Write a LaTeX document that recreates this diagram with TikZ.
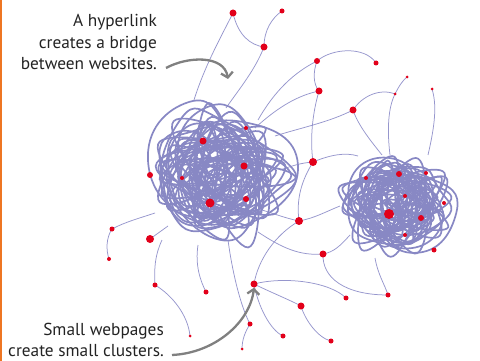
\documentclass[tikz,border=0pt]{standalone}
\usepackage{fontspec}
\newfontfamily\notefont{PT Sans}
\usetikzlibrary{arrows.meta}
\definecolor{webred}{RGB}{226,0,26}
\definecolor{yarn}{RGB}{136,136,196}
\definecolor{thinlink}{RGB}{150,150,205}
\definecolor{callgray}{RGB}{128,128,128}
\definecolor{textgray}{RGB}{35,35,35}
\definecolor{barorange}{RGB}{238,118,35}
\pgfdeclarelayer{bg}
\pgfsetlayers{bg,main}
\begin{document}
\begin{tikzpicture}[x=1pt,y=-1pt,
  reddot/.style={circle,fill=webred,inner sep=0pt,minimum size=#1},
  link/.style={draw=thinlink,line width=0.75pt},
  yarnline/.style={draw=yarn,line width=1.7pt},
  callout/.style={draw=callgray,line width=2.3pt,-{Straight Barb[length=5pt,width=12pt]}},
  note/.style={font=\notefont\fontsize{17.3}{20}\selectfont,text=textgray,anchor=base east,inner sep=0pt}]
\useasboundingbox (0,0) rectangle (480,361);
\fill[barorange] (0,0) rectangle (2.2,361);

% outer dots
\node[reddot=7pt] (n1) at (233,13) {};
\node[reddot=5pt] (n2) at (282,11) {};
\node[reddot=7pt] (n3) at (264,47) {};
\node[reddot=6pt] (n4) at (317,61) {};
\node[reddot=5pt] (n5) at (376,63) {};
\node[reddot=7pt] (n6) at (319,91) {};
\node[reddot=3pt] (n7) at (407,77) {};
\node[reddot=3pt] (n8) at (395,94) {};
\node[reddot=3pt] (n9) at (432,89) {};
\node[reddot=7pt] (n10) at (353,110) {};
\node[reddot=8pt] (n11) at (313,162) {};
\node[reddot=8pt] (n12) at (299,221) {};
\node[reddot=7pt] (n13) at (323,254) {};
\node[reddot=7pt] (n14) at (254,284) {};
\node[reddot=5pt] (n15) at (346,298) {};
\node[reddot=5pt] (n16) at (388,295) {};
\node[reddot=7pt] (n17) at (301,306) {};
\node[reddot=5pt] (n18) at (331,341) {};
\node[reddot=5pt] (n19) at (283,336) {};
\node[reddot=5pt] (n20) at (250,324) {};
\node[reddot=3pt] (n21) at (242,349) {};
\node[reddot=5pt] (n22) at (112,229) {};
\node[reddot=4pt] (n23) at (109,259) {};
\node[reddot=8pt] (n24) at (150,239) {};
\node[reddot=5pt] (n25) at (155,285) {};
\node[reddot=3pt] (n26) at (190,336) {};
\node[reddot=5pt] (n27) at (206,292) {};
% left cluster dots
\node[reddot=4pt] (l1) at (246,128) {};
\node[reddot=7pt] (l2) at (203,141) {};
\node[reddot=7pt] (l3) at (244,166) {};
\node[reddot=6pt] (l4) at (150,175) {};
\node[reddot=4pt] (l5) at (182,178) {};
\node[reddot=9pt] (l6) at (210,203) {};
\node[reddot=6pt] (l7) at (246,199) {};
% right cluster dots
\node[reddot=4pt] (r1) at (366,178) {};
\node[reddot=6pt] (r2) at (399,174) {};
\node[reddot=4pt] (r3) at (426,173) {};
\node[reddot=4pt] (r4) at (405,196) {};
\node[reddot=4pt] (r5) at (444,203) {};
\node[reddot=10pt] (r6) at (389,214) {};
\node[reddot=6pt] (r7) at (421,218) {};
\node[reddot=4pt] (r8) at (405,235) {};
\node[reddot=5pt] (r9) at (434,250) {};

% free ends inside clusters
\coordinate (k1) at (194,100);
\coordinate (k2) at (226,108);
\coordinate (k3) at (258,120);
\coordinate (k4) at (255,128);
\coordinate (k5) at (275,136);
\coordinate (k6) at (382,155);
\coordinate (k7) at (390,155);
\coordinate (k8) at (428,155);
\coordinate (k9) at (280,170);
\coordinate (k10) at (358,156);
\coordinate (k11) at (262,210);
\coordinate (k12) at (340,206);
\coordinate (k13) at (258,232);
\coordinate (k14) at (350,235);
\coordinate (k15) at (375,258);
\coordinate (k16) at (228,240);
\coordinate (k17) at (155,213);
\coordinate (k18) at (168,226);
\coordinate (k19) at (162,240);
\coordinate (k20) at (198,245);

\begin{pgfonlayer}{bg}
\draw[link] (n1.center) .. controls (222,35) and (205,65) .. (k1);
\draw[link] (n1.center) .. controls (238,35) and (250,45) .. (n3.center);
\draw[link] (n2.center) .. controls (272,18) and (264,30) .. (n3.center);
\draw[link] (n3.center) .. controls (255,70) and (240,88) .. (k2);
\draw[link] (n4.center) .. controls (313,72) and (313,84) .. (n6.center);
\draw[link] (n4.center) .. controls (332,48) and (365,46) .. (n5.center);
\draw[link] (n4.center) .. controls (295,72) and (275,90) .. (k3);
\draw[link] (n6.center) .. controls (300,95) and (280,105) .. (k4);
\draw[link] (n6.center) .. controls (312,115) and (310,140) .. (n11.center);
\draw[link] (n10.center) .. controls (330,122) and (300,128) .. (k5);
\draw[link] (n10.center) .. controls (362,96) and (380,88) .. (n8.center);
\draw[link] (n10.center) .. controls (358,125) and (370,140) .. (k6);
\draw[link] (n8.center) .. controls (399,86) and (403,80) .. (n7.center);
\draw[link] (n8.center) .. controls (388,108) and (387,130) .. (k7);
\draw[link] (n9.center) .. controls (437,105) and (435,125) .. (k8);
\draw[link] (n11.center) .. controls (300,163) and (292,166) .. (k9);
\draw[link] (n11.center) .. controls (330,155) and (345,152) .. (k10);
\draw[link] (n12.center) .. controls (296,198) and (302,180) .. (n11.center);
\draw[link] (n12.center) .. controls (285,218) and (275,214) .. (k11);
\draw[link] (n12.center) .. controls (315,218) and (325,212) .. (k12);
\draw[link] (n12.center) .. controls (275,235) and (258,260) .. (n14.center);
\draw[link] (k13) .. controls (282,248) and (300,256) .. (n13.center);
\draw[link] (n13.center) .. controls (334,252) and (340,246) .. (k14);
\draw[link] (n13.center) .. controls (322,278) and (345,295) .. (n16.center);
\draw[link] (k15) .. controls (378,275) and (385,285) .. (n16.center);
\draw[link] (n14.center) .. controls (285,276) and (330,282) .. (n15.center);
\draw[link] (n14.center) .. controls (270,292) and (290,300) .. (n17.center);
\draw[link] (n14.center) .. controls (258,306) and (270,330) .. (n19.center);
\draw[link] (n17.center) .. controls (305,320) and (318,338) .. (n18.center);
\draw[link] (k16) .. controls (232,270) and (240,305) .. (n20.center);
\draw[link] (n20.center) .. controls (245,332) and (242,340) .. (n21.center);
\draw[link] (n22.center) .. controls (125,222) and (140,218) .. (k17);
\draw[link] (n22.center) .. controls (106,238) and (106,250) .. (n23.center);
\draw[link] (n24.center) -- (k18);
\draw[link] (n25.center) .. controls (154,268) and (155,255) .. (k19);
\draw[link] (n25.center) .. controls (172,295) and (188,315) .. (n26.center);
\draw[link] (n27.center) .. controls (200,280) and (195,265) .. (k20);

% tangled loops of the two clusters
\pgfmathsetseed{11}
\foreach \i in {1,...,32}{
  \pgfmathsetmacro\cx{217+22*rand}
  \pgfmathsetmacro\cy{170+24*rand}
  \pgfmathsetmacro\ph{360*rnd}
  \pgfmathsetmacro\st{ifthenelse(mod(\i,3)==0,72,144)}
  \draw[yarnline] plot[smooth cycle,tension=1] coordinates {
    ({\cx+(26+38*rnd)*cos(\ph)},{\cy+(26+40*rnd)*sin(\ph)})
    ({\cx+(26+38*rnd)*cos(\ph+\st)},{\cy+(26+40*rnd)*sin(\ph+\st)})
    ({\cx+(26+38*rnd)*cos(\ph+2*\st)},{\cy+(26+40*rnd)*sin(\ph+2*\st)})
    ({\cx+(26+38*rnd)*cos(\ph+3*\st)},{\cy+(26+40*rnd)*sin(\ph+3*\st)})
    ({\cx+(26+38*rnd)*cos(\ph+4*\st)},{\cy+(26+40*rnd)*sin(\ph+4*\st)})
  };
}
\foreach \i in {1,...,26}{
  \pgfmathsetmacro\cx{398+20*rand}
  \pgfmathsetmacro\cy{205+16*rand}
  \pgfmathsetmacro\ph{360*rnd}
  \pgfmathsetmacro\st{ifthenelse(mod(\i,3)==0,72,144)}
  \draw[yarnline] plot[smooth cycle,tension=1] coordinates {
    ({\cx+(22+30*rnd)*cos(\ph)},{\cy+(20+28*rnd)*sin(\ph)})
    ({\cx+(22+30*rnd)*cos(\ph+\st)},{\cy+(20+28*rnd)*sin(\ph+\st)})
    ({\cx+(22+30*rnd)*cos(\ph+2*\st)},{\cy+(20+28*rnd)*sin(\ph+2*\st)})
    ({\cx+(22+30*rnd)*cos(\ph+3*\st)},{\cy+(20+28*rnd)*sin(\ph+3*\st)})
    ({\cx+(22+30*rnd)*cos(\ph+4*\st)},{\cy+(20+28*rnd)*sin(\ph+4*\st)})
  };
}
\end{pgfonlayer}

% captions
\node[note] (t1) at (157,26.5) {A hyperlink};
\node[note] (t2) at (157,48.3) {creates a bridge};
\node[note] (t3) at (157,69.3) {between websites.};
\node[note] (t4) at (164,335.5) {Small webpages};
\node[note] (t5) at (164,356.7) {create small clusters.};

% callout arrows
\coordinate (a1s) at (166,68);
\coordinate (a1e) at (228,79);
\draw[callout] (a1s) .. controls (188,56) and (224,55) .. (a1e);
\coordinate (a2s) at (172,355);
\draw[callout] (a2s) .. controls (215,353) and (250,322) .. (n14.south);
\end{tikzpicture}
\end{document}
